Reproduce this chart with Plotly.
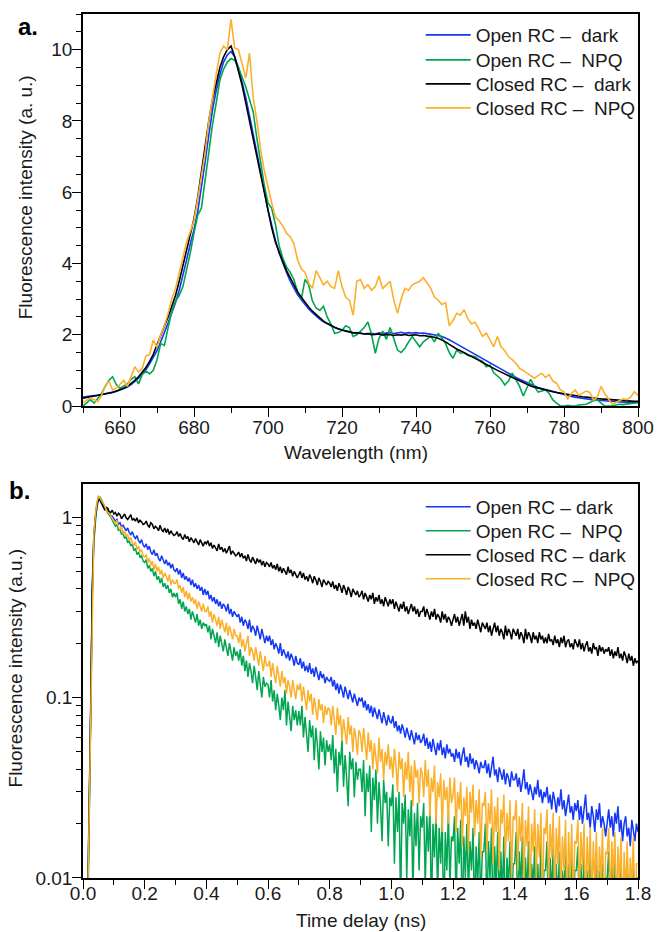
import plotly.graph_objects as go

# ---------------- Panel a: steady-state spectra ----------------
WAVELENGTH_NM = list(range(650, 801))

CLOSED_DARK_A = [
    0.22, 0.24, 0.26, 0.28, 0.29, 0.31, 0.33, 0.36, 0.38, 0.42,
    0.45, 0.50, 0.55, 0.63, 0.72, 0.82, 0.95, 1.08, 1.25, 1.45,
    1.72, 1.98, 2.22, 2.50, 2.80, 3.10, 3.50, 3.95, 4.40, 4.80,
    5.25, 5.85, 6.60, 7.30, 8.00, 8.60, 9.10, 9.50, 9.80, 10.0,
    10.1, 9.80, 9.40, 9.00, 8.50, 8.00, 7.50, 6.90, 6.40, 5.90,
    5.40, 5.00, 4.60, 4.30, 4.05, 3.80, 3.60, 3.40, 3.20, 3.05,
    2.90, 2.78, 2.66, 2.56, 2.46, 2.38, 2.32, 2.26, 2.21, 2.17,
    2.13, 2.10, 2.08, 2.05, 2.06, 2.04, 2.02, 2.03, 2.00, 2.01,
    2.02, 1.99, 2.01, 2.00, 1.98, 2.00, 1.99, 2.01, 1.98, 1.99,
    2.00, 1.97, 1.98, 1.96, 1.95, 1.93, 1.90, 1.86, 1.80, 1.73,
    1.66, 1.60, 1.55, 1.50, 1.45, 1.39, 1.33, 1.28, 1.22, 1.16,
    1.10, 1.05, 1.00, 0.95, 0.90, 0.84, 0.79, 0.74, 0.69, 0.64,
    0.60, 0.56, 0.53, 0.50, 0.47, 0.44, 0.42, 0.40, 0.38, 0.36,
    0.35, 0.33, 0.31, 0.29, 0.28, 0.26, 0.25, 0.23, 0.22, 0.21,
    0.20, 0.19, 0.18, 0.17, 0.16, 0.16, 0.15, 0.14, 0.14, 0.13,
    0.13,
]

OPEN_DARK_A = [
    0.25, 0.27, 0.27, 0.29, 0.30, 0.32, 0.33, 0.35, 0.38, 0.41,
    0.45, 0.48, 0.53, 0.60, 0.68, 0.78, 0.90, 1.02, 1.18, 1.36,
    1.55, 1.80, 2.05, 2.33, 2.62, 2.90, 3.25, 3.65, 4.10, 4.55,
    4.95, 5.45, 6.10, 6.85, 7.60, 8.30, 8.85, 9.30, 9.65, 9.85,
    9.95, 9.80, 9.50, 9.10, 8.65, 8.15, 7.65, 7.10, 6.55, 6.05,
    5.50, 5.05, 4.65, 4.30, 4.00, 3.75, 3.50, 3.30, 3.12, 2.98,
    2.84, 2.72, 2.62, 2.52, 2.44, 2.36, 2.30, 2.24, 2.20, 2.16,
    2.13, 2.10, 2.07, 2.06, 2.04, 2.05, 2.02, 2.03, 2.04, 2.02,
    2.05, 2.03, 2.04, 2.06, 2.03, 2.05, 2.07, 2.04, 2.06, 2.05,
    2.06, 2.04, 2.05, 2.03, 2.02, 2.00, 1.98, 1.95, 1.91, 1.86,
    1.80, 1.74, 1.68, 1.62, 1.56, 1.50, 1.44, 1.38, 1.33, 1.27,
    1.21, 1.16, 1.10, 1.04, 0.98, 0.92, 0.86, 0.80, 0.75, 0.70,
    0.65, 0.60, 0.56, 0.52, 0.49, 0.46, 0.43, 0.40, 0.37, 0.34,
    0.31, 0.29, 0.27, 0.25, 0.23, 0.21, 0.20, 0.18, 0.17, 0.16,
    0.15, 0.14, 0.13, 0.12, 0.12, 0.11, 0.10, 0.10, 0.09, 0.09,
    0.10,
]

OPEN_NPQ_A = [
    0.00, 0.10, 0.18, 0.08, 0.20, 0.35, 0.55, 0.72, 0.82, 0.60,
    0.50, 0.55, 0.62, 0.75, 0.82, 0.62, 0.88, 0.98, 0.90, 1.00,
    1.30, 1.75, 1.70, 2.20, 2.65, 2.95, 3.10, 3.35, 3.80, 4.30,
    4.85, 5.35, 5.55, 6.30, 7.20, 7.90, 8.50, 9.15, 9.45, 9.65,
    9.75, 9.70, 9.50, 9.25, 8.95, 8.60, 8.25, 7.50, 6.80, 6.20,
    5.70, 5.55, 5.10, 4.50, 4.15, 3.90, 3.75, 3.55, 3.20, 3.00,
    3.55, 3.40, 2.95, 2.75, 2.68, 2.80, 2.50, 2.30, 2.04, 2.06,
    2.12, 2.25, 2.20, 1.95, 2.00, 2.10, 2.20, 2.36, 2.00, 1.48,
    1.90, 2.10, 1.87, 2.20, 1.90, 1.57, 1.50, 1.62, 1.80, 1.95,
    1.80, 1.66, 1.80, 1.87, 1.96, 1.80, 2.04, 1.90, 1.75, 1.50,
    1.34, 1.57, 1.48, 1.50, 1.42, 1.40, 1.38, 1.30, 1.25, 1.10,
    1.15, 0.93, 0.84, 0.75, 0.59, 0.70, 0.92, 0.75, 0.55, 0.28,
    0.50, 0.75, 0.55, 0.39, 0.42, 0.45, 0.35, 0.17, 0.08, 0.00,
    0.00, 0.02, 0.00, 0.00, 0.03, 0.05, 0.05, 0.10, 0.15, 0.17,
    0.08, 0.00, 0.00, 0.00, 0.03, 0.05, 0.04, 0.06, 0.08, 0.10,
    0.10,
]

CLOSED_NPQ_A = [
    0.10, 0.15, 0.22, 0.18, 0.12, 0.30, 0.55, 0.70, 0.45, 0.50,
    0.60, 0.72, 0.55, 0.85, 1.10, 0.95, 1.05, 1.40, 1.45, 1.85,
    1.65, 2.00, 2.25, 2.60, 3.00, 3.30, 3.75, 4.15, 4.60, 4.90,
    5.20, 5.80, 6.40, 7.10, 8.00, 8.70, 9.30, 9.90, 10.10, 10.0,
    10.85, 10.05, 10.0, 9.60, 9.20, 9.90, 8.65, 8.00, 7.20, 6.60,
    6.10, 5.70, 5.30, 5.20, 5.05, 4.85, 4.75, 4.55, 4.10, 3.85,
    3.75, 3.45, 3.30, 3.80, 3.60, 3.40, 3.50, 3.35, 3.30, 3.80,
    3.35, 3.05, 2.97, 2.55, 3.50, 3.55, 3.30, 3.40, 3.25, 3.35,
    3.65, 3.30, 3.40, 3.50, 2.97, 2.60, 3.00, 3.30, 3.25, 3.40,
    3.45, 3.50, 3.60, 3.45, 3.30, 3.05, 2.97, 2.85, 2.90, 2.25,
    2.40, 2.60, 2.55, 2.70, 2.45, 2.30, 2.35, 2.15, 1.95, 2.05,
    1.85, 1.66, 1.95, 1.66, 1.55, 1.38, 1.30, 1.20, 1.05, 1.00,
    0.92, 0.85, 0.78, 0.85, 0.92, 0.80, 0.88, 0.70, 0.64, 0.45,
    0.40, 0.20, 0.35, 0.45, 0.30, 0.36, 0.42, 0.38, 0.17, 0.25,
    0.55, 0.35, 0.20, 0.05, 0.10, 0.15, 0.20, 0.18, 0.25, 0.40,
    0.30,
]

# ---------------- Panel b: fluorescence decays (0.005 ns sampling) ----------------
TIME_NS = [i / 200 for i in range(361)]

OPEN_DARK_B = [
    0.001, 0.001, 0.002, 0.006, 0.02, 0.08, 0.38, 0.74, 0.98, 1.16, 1.27, 1.26, 1.21, 1.16, 1.13, 1.09, 1.10, 1.05, 1.02, 1.01,
    0.98, 0.95, 0.97, 0.91, 0.93, 0.88, 0.90, 0.86, 0.84, 0.87, 0.82, 0.80, 0.83, 0.78, 0.76, 0.79, 0.74, 0.72, 0.75, 0.70,
    0.68, 0.71, 0.66, 0.69, 0.64, 0.62, 0.66, 0.61, 0.63, 0.59, 0.57, 0.61, 0.58, 0.55, 0.58, 0.54, 0.56, 0.52, 0.55, 0.51,
    0.50, 0.52, 0.48, 0.51, 0.46, 0.49, 0.45, 0.47, 0.44, 0.46, 0.42, 0.45, 0.41, 0.43, 0.40, 0.42, 0.39, 0.41, 0.37, 0.40,
    0.37, 0.39, 0.35, 0.37, 0.34, 0.36, 0.33, 0.35, 0.32, 0.34, 0.31, 0.33, 0.32, 0.30, 0.33, 0.29, 0.31, 0.28, 0.30, 0.29,
    0.28, 0.29, 0.26, 0.28, 0.25, 0.27, 0.26, 0.24, 0.27, 0.23, 0.25, 0.24, 0.22, 0.25, 0.23, 0.21, 0.24, 0.22, 0.20, 0.22,
    0.205, 0.22, 0.195, 0.21, 0.185, 0.20, 0.19, 0.175, 0.20, 0.17, 0.185, 0.175, 0.165, 0.18, 0.16, 0.175, 0.165, 0.15, 0.17, 0.155,
    0.152, 0.165, 0.145, 0.158, 0.14, 0.15, 0.138, 0.155, 0.135, 0.145, 0.13, 0.148, 0.136, 0.125, 0.14, 0.128, 0.135, 0.12, 0.13, 0.125,
    0.123, 0.13, 0.115, 0.125, 0.11, 0.12, 0.105, 0.118, 0.11, 0.10, 0.115, 0.105, 0.098, 0.11, 0.10, 0.094, 0.105, 0.098, 0.09, 0.10,
    0.095, 0.10, 0.088, 0.096, 0.085, 0.092, 0.082, 0.09, 0.078, 0.088, 0.08, 0.076, 0.086, 0.078, 0.072, 0.083, 0.075, 0.07, 0.08, 0.074,
    0.072, 0.079, 0.068, 0.074, 0.065, 0.07, 0.063, 0.071, 0.066, 0.06, 0.068, 0.062, 0.058, 0.066, 0.06, 0.055, 0.064, 0.058, 0.062, 0.056,
    0.058, 0.063, 0.054, 0.06, 0.052, 0.057, 0.05, 0.059, 0.053, 0.048, 0.056, 0.051, 0.058, 0.048, 0.053, 0.046, 0.055, 0.049, 0.052, 0.047,
    0.049, 0.044, 0.052, 0.046, 0.05, 0.042, 0.048, 0.053, 0.044, 0.047, 0.041, 0.049, 0.043, 0.046, 0.04, 0.045, 0.042, 0.038, 0.044, 0.041,
    0.041, 0.045, 0.038, 0.043, 0.036, 0.042, 0.047, 0.037, 0.04, 0.034, 0.041, 0.038, 0.035, 0.04, 0.033, 0.038, 0.036, 0.032, 0.039, 0.035,
    0.035, 0.038, 0.032, 0.036, 0.03, 0.034, 0.04, 0.031, 0.034, 0.029, 0.033, 0.03, 0.027, 0.032, 0.029, 0.035, 0.028, 0.031, 0.026, 0.03,
    0.028, 0.032, 0.026, 0.029, 0.024, 0.03, 0.027, 0.023, 0.028, 0.025, 0.031, 0.024, 0.027, 0.022, 0.026, 0.029, 0.023, 0.025, 0.021, 0.026,
    0.0235, 0.027, 0.021, 0.025, 0.02, 0.024, 0.029, 0.021, 0.023, 0.019, 0.025, 0.022, 0.018, 0.024, 0.021, 0.026, 0.019, 0.022, 0.02, 0.017,
    0.021, 0.024, 0.019, 0.022, 0.017, 0.023, 0.02, 0.025, 0.018, 0.021, 0.016, 0.02, 0.022, 0.017, 0.019, 0.015, 0.021, 0.018, 0.016, 0.02,
    0.018,
]

OPEN_NPQ_B = [
    0.001, 0.001, 0.002, 0.005, 0.02, 0.08, 0.36, 0.72, 0.96, 1.17, 1.30, 1.29, 1.25, 1.20, 1.17, 1.10, 1.05, 1.03, 1.00, 0.96,
    0.93, 0.89, 0.91, 0.84, 0.86, 0.80, 0.82, 0.76, 0.78, 0.72, 0.74, 0.69, 0.71, 0.65, 0.67, 0.62, 0.64, 0.60, 0.61, 0.57,
    0.56, 0.58, 0.52, 0.54, 0.50, 0.52, 0.47, 0.50, 0.45, 0.47, 0.43, 0.46, 0.41, 0.43, 0.40, 0.42, 0.38, 0.40, 0.36, 0.38,
    0.36, 0.38, 0.33, 0.35, 0.31, 0.34, 0.30, 0.32, 0.29, 0.31, 0.27, 0.30, 0.28, 0.26, 0.29, 0.25, 0.27, 0.24, 0.26, 0.25,
    0.255, 0.23, 0.25, 0.21, 0.24, 0.22, 0.20, 0.23, 0.19, 0.22, 0.20, 0.18, 0.21, 0.19, 0.17, 0.20, 0.18, 0.16, 0.19, 0.17,
    0.18, 0.16, 0.185, 0.15, 0.17, 0.14, 0.16, 0.13, 0.155, 0.14, 0.12, 0.15, 0.13, 0.11, 0.14, 0.12, 0.10, 0.13, 0.115, 0.12,
    0.118, 0.10, 0.125, 0.095, 0.11, 0.085, 0.105, 0.09, 0.075, 0.10, 0.085, 0.11, 0.07, 0.095, 0.08, 0.065, 0.09, 0.075, 0.085, 0.07,
    0.084, 0.07, 0.09, 0.06, 0.078, 0.065, 0.05, 0.075, 0.06, 0.07, 0.045, 0.068, 0.055, 0.04, 0.065, 0.05, 0.06, 0.042, 0.058, 0.05,
    0.055, 0.045, 0.062, 0.038, 0.052, 0.03, 0.05, 0.042, 0.058, 0.032, 0.048, 0.036, 0.025, 0.05, 0.04, 0.046, 0.028, 0.044, 0.035, 0.04,
    0.04, 0.03, 0.045, 0.022, 0.038, 0.03, 0.042, 0.018, 0.036, 0.027, 0.04, 0.02, 0.034, 0.025, 0.016, 0.035, 0.026, 0.03, 0.015, 0.028,
    0.025, 0.033, 0.012, 0.028, 0.018, 0.03, 0.007, 0.026, 0.02, 0.029, 0.01, 0.024, 0.017, 0.027, 0.008, 0.023, 0.015, 0.026, 0.011, 0.022,
    0.019, 0.026, 0.009, 0.022, 0.014, 0.025, 0.006, 0.02, 0.013, 0.024, 0.008, 0.019, 0.012, 0.022, 0.005, 0.018, 0.011, 0.023, 0.009, 0.017,
    0.016, 0.022, 0.007, 0.019, 0.012, 0.021, 0.005, 0.017, 0.01, 0.02, 0.008, 0.016, 0.011, 0.019, 0.006, 0.015, 0.009, 0.018, 0.007, 0.014,
    0.014, 0.02, 0.006, 0.016, 0.01, 0.019, 0.005, 0.015, 0.009, 0.018, 0.007, 0.014, 0.008, 0.017, 0.005, 0.013, 0.009, 0.016, 0.006, 0.012,
    0.012, 0.018, 0.006, 0.014, 0.009, 0.017, 0.005, 0.013, 0.008, 0.016, 0.006, 0.012, 0.009, 0.015, 0.005, 0.012, 0.007, 0.016, 0.006, 0.011,
    0.011, 0.016, 0.005, 0.013, 0.008, 0.015, 0.006, 0.012, 0.007, 0.014, 0.005, 0.011, 0.008, 0.015, 0.006, 0.012, 0.007, 0.013, 0.005, 0.011,
    0.011, 0.015, 0.006, 0.012, 0.007, 0.014, 0.005, 0.011, 0.008, 0.013, 0.006, 0.01, 0.007, 0.014, 0.005, 0.011, 0.008, 0.012, 0.006, 0.01,
    0.01, 0.014, 0.005, 0.012, 0.007, 0.013, 0.006, 0.01, 0.008, 0.012, 0.005, 0.011, 0.007, 0.013, 0.006, 0.01, 0.007, 0.012, 0.005, 0.01,
    0.01,
]

CLOSED_DARK_B = [
    0.001, 0.001, 0.002, 0.006, 0.02, 0.09, 0.40, 0.78, 1.00, 1.17, 1.25, 1.24, 1.19, 1.15, 1.10, 1.13, 1.12, 1.07, 1.06, 1.09,
    1.04, 1.06, 1.01, 1.05, 1.03, 0.98, 1.02, 1.04, 0.99, 0.97, 1.00, 1.03, 0.96, 0.98, 0.95, 0.99, 0.93, 0.96, 0.94, 0.91,
    0.92, 0.95, 0.90, 0.88, 0.93, 0.91, 0.86, 0.89, 0.87, 0.84, 0.90, 0.85, 0.83, 0.87, 0.82, 0.86, 0.80, 0.84, 0.81, 0.79,
    0.80, 0.83, 0.78, 0.81, 0.77, 0.75, 0.80, 0.76, 0.78, 0.73, 0.77, 0.74, 0.72, 0.76, 0.73, 0.70, 0.75, 0.72, 0.69, 0.73,
    0.71, 0.74, 0.69, 0.72, 0.67, 0.70, 0.68, 0.65, 0.71, 0.66, 0.68, 0.64, 0.67, 0.63, 0.66, 0.69, 0.62, 0.65, 0.63, 0.61,
    0.62, 0.64, 0.60, 0.63, 0.59, 0.61, 0.57, 0.62, 0.58, 0.56, 0.60, 0.57, 0.55, 0.59, 0.56, 0.58, 0.54, 0.57, 0.53, 0.56,
    0.55, 0.53, 0.56, 0.52, 0.54, 0.51, 0.55, 0.50, 0.53, 0.49, 0.52, 0.50, 0.48, 0.53, 0.49, 0.51, 0.47, 0.50, 0.48, 0.46,
    0.48, 0.50, 0.46, 0.49, 0.45, 0.47, 0.44, 0.48, 0.46, 0.43, 0.47, 0.45, 0.42, 0.46, 0.44, 0.41, 0.45, 0.43, 0.42, 0.44,
    0.43, 0.41, 0.44, 0.40, 0.42, 0.39, 0.43, 0.41, 0.38, 0.42, 0.40, 0.37, 0.41, 0.39, 0.36, 0.40, 0.38, 0.37, 0.39, 0.36,
    0.37, 0.39, 0.35, 0.38, 0.36, 0.34, 0.37, 0.35, 0.38, 0.33, 0.36, 0.34, 0.37, 0.33, 0.35, 0.32, 0.36, 0.34, 0.32, 0.35,
    0.33, 0.35, 0.31, 0.34, 0.32, 0.30, 0.33, 0.31, 0.34, 0.30, 0.32, 0.29, 0.31, 0.33, 0.30, 0.32, 0.29, 0.31, 0.28, 0.30,
    0.30, 0.32, 0.28, 0.31, 0.29, 0.27, 0.30, 0.28, 0.31, 0.27, 0.29, 0.28, 0.26, 0.30, 0.27, 0.29, 0.26, 0.28, 0.27, 0.25,
    0.27, 0.29, 0.26, 0.28, 0.25, 0.27, 0.29, 0.25, 0.30, 0.26, 0.28, 0.24, 0.27, 0.25, 0.26, 0.24, 0.27, 0.25, 0.23, 0.26,
    0.25, 0.24, 0.26, 0.23, 0.25, 0.22, 0.24, 0.26, 0.23, 0.25, 0.22, 0.24, 0.23, 0.21, 0.25, 0.22, 0.24, 0.23, 0.21, 0.24,
    0.23, 0.22, 0.24, 0.21, 0.23, 0.22, 0.20, 0.24, 0.21, 0.23, 0.22, 0.20, 0.23, 0.21, 0.22, 0.20, 0.23, 0.21, 0.22, 0.20,
    0.215, 0.20, 0.225, 0.205, 0.21, 0.195, 0.22, 0.20, 0.21, 0.19, 0.215, 0.20, 0.22, 0.19, 0.205, 0.21, 0.19, 0.20, 0.185, 0.21,
    0.20, 0.19, 0.21, 0.185, 0.20, 0.18, 0.195, 0.205, 0.18, 0.19, 0.175, 0.20, 0.185, 0.19, 0.17, 0.195, 0.18, 0.19, 0.175, 0.185,
    0.18, 0.19, 0.17, 0.185, 0.165, 0.18, 0.17, 0.19, 0.165, 0.175, 0.16, 0.18, 0.17, 0.155, 0.175, 0.16, 0.17, 0.15, 0.165, 0.155,
    0.16,
]

CLOSED_NPQ_B = [
    0.001, 0.001, 0.002, 0.007, 0.025, 0.10, 0.42, 0.80, 1.02, 1.20, 1.30, 1.28, 1.23, 1.19, 1.16, 1.10, 1.06, 1.05, 1.02, 0.98,
    0.95, 0.92, 0.96, 0.88, 0.85, 0.89, 0.81, 0.84, 0.78, 0.80, 0.74, 0.77, 0.72, 0.70, 0.73, 0.66, 0.69, 0.64, 0.66, 0.61,
    0.60, 0.62, 0.56, 0.59, 0.54, 0.57, 0.51, 0.55, 0.50, 0.53, 0.48, 0.51, 0.46, 0.49, 0.47, 0.44, 0.48, 0.42, 0.45, 0.43,
    0.43, 0.45, 0.40, 0.42, 0.38, 0.41, 0.36, 0.39, 0.35, 0.38, 0.34, 0.36, 0.33, 0.35, 0.31, 0.34, 0.32, 0.30, 0.33, 0.30,
    0.30, 0.32, 0.28, 0.30, 0.26, 0.29, 0.27, 0.25, 0.28, 0.24, 0.27, 0.25, 0.23, 0.26, 0.22, 0.25, 0.23, 0.21, 0.24, 0.22,
    0.22, 0.20, 0.23, 0.19, 0.21, 0.18, 0.20, 0.22, 0.17, 0.19, 0.18, 0.16, 0.19, 0.17, 0.15, 0.18, 0.16, 0.14, 0.17, 0.15,
    0.15, 0.16, 0.13, 0.155, 0.135, 0.12, 0.15, 0.13, 0.115, 0.14, 0.12, 0.13, 0.105, 0.125, 0.115, 0.10, 0.125, 0.11, 0.098, 0.118,
    0.11, 0.12, 0.095, 0.115, 0.10, 0.085, 0.11, 0.095, 0.105, 0.08, 0.10, 0.088, 0.075, 0.098, 0.085, 0.092, 0.072, 0.09, 0.08, 0.088,
    0.085, 0.07, 0.09, 0.075, 0.062, 0.088, 0.07, 0.08, 0.058, 0.076, 0.065, 0.055, 0.078, 0.062, 0.07, 0.05, 0.068, 0.06, 0.048, 0.066,
    0.062, 0.05, 0.068, 0.055, 0.045, 0.064, 0.05, 0.058, 0.04, 0.056, 0.046, 0.038, 0.06, 0.044, 0.052, 0.035, 0.05, 0.042, 0.055, 0.04,
    0.047, 0.036, 0.052, 0.042, 0.03, 0.05, 0.04, 0.046, 0.028, 0.044, 0.035, 0.05, 0.03, 0.042, 0.025, 0.045, 0.036, 0.04, 0.026, 0.041,
    0.038, 0.028, 0.045, 0.032, 0.04, 0.022, 0.036, 0.03, 0.042, 0.02, 0.034, 0.028, 0.038, 0.018, 0.035, 0.027, 0.032, 0.02, 0.036, 0.026,
    0.029, 0.036, 0.018, 0.03, 0.024, 0.034, 0.015, 0.028, 0.022, 0.032, 0.014, 0.03, 0.023, 0.033, 0.017, 0.027, 0.02, 0.031, 0.013, 0.026,
    0.025, 0.03, 0.014, 0.026, 0.02, 0.031, 0.012, 0.025, 0.018, 0.028, 0.011, 0.024, 0.02, 0.029, 0.013, 0.023, 0.016, 0.027, 0.01, 0.022,
    0.021, 0.027, 0.011, 0.022, 0.016, 0.026, 0.009, 0.021, 0.015, 0.025, 0.008, 0.02, 0.014, 0.024, 0.01, 0.02, 0.013, 0.023, 0.007, 0.019,
    0.0175, 0.024, 0.009, 0.02, 0.013, 0.023, 0.007, 0.019, 0.012, 0.022, 0.008, 0.017, 0.011, 0.021, 0.006, 0.018, 0.01, 0.02, 0.007, 0.016,
    0.0155, 0.021, 0.008, 0.018, 0.011, 0.02, 0.006, 0.017, 0.01, 0.019, 0.007, 0.016, 0.009, 0.018, 0.006, 0.015, 0.01, 0.019, 0.005, 0.014,
    0.0135, 0.019, 0.007, 0.016, 0.01, 0.018, 0.006, 0.015, 0.009, 0.017, 0.005, 0.014, 0.008, 0.016, 0.006, 0.013, 0.009, 0.017, 0.005, 0.012,
    0.012,
]

LABELS_A = ["Open RC –\u00a0 dark", "Open RC –\u00a0 NPQ",
            "Closed RC –\u00a0 dark", "Closed RC –\u00a0 NPQ"]
LABELS_B = ["Open RC – dark", "Open RC –\u00a0 NPQ",
            "Closed RC – dark", "Closed RC –\u00a0 NPQ"]
COLORS = ["#1438f5", "#00a651", "#000000", "#fbb02c"]

FONT = "Liberation Sans, Arial, sans-serif"
FS = 19
TXT = "#1a1a1a"

# pixel geometry helpers (figure 666 x 932)
W, H = 666, 932
L, R, T, B = 83, 16, 14, 54
pw, ph = W - L - R, H - T - B


def px_to_paper(xp, yp):
    return (xp - L) / pw, (H - B - yp) / ph


LEGEND_ROWS_A = [35, 60, 84, 108]
LEGEND_ROWS_B = [507, 531, 555, 579]
LEGEND_LEFT = 428

fig = go.Figure()

layout_legends = {}
series_a = [OPEN_DARK_A, OPEN_NPQ_A, CLOSED_DARK_A, CLOSED_NPQ_A]
for i, (name, ys, c) in enumerate(zip(LABELS_A, series_a, COLORS)):
    key = "legend" if i == 0 else f"legend{i + 1}"
    fig.add_trace(go.Scatter(x=WAVELENGTH_NM, y=ys, mode="lines", name=name,
                             line=dict(color=c, width=1.6), showlegend=True,
                             xaxis="x", yaxis="y", legend=key))
    lx, ly = px_to_paper(LEGEND_LEFT, LEGEND_ROWS_A[i])
    layout_legends[key] = dict(x=lx, y=ly, xanchor="left", yanchor="middle",
                               bgcolor="rgba(0,0,0,0)", borderwidth=0, itemwidth=45,
                               font=dict(family=FONT, size=FS, color=TXT))

series_b = [OPEN_DARK_B, OPEN_NPQ_B, CLOSED_DARK_B, CLOSED_NPQ_B]
for i, (name, ys, c) in enumerate(zip(LABELS_B, series_b, COLORS)):
    key = f"legend{i + 5}"
    fig.add_trace(go.Scatter(x=TIME_NS, y=ys, mode="lines", name=name,
                             line=dict(color=c, width=1.5), showlegend=True,
                             xaxis="x2", yaxis="y2", legend=key))
    lx, ly = px_to_paper(LEGEND_LEFT, LEGEND_ROWS_B[i])
    layout_legends[key] = dict(x=lx, y=ly, xanchor="left", yanchor="middle",
                               bgcolor="rgba(0,0,0,0)", borderwidth=0, itemwidth=45,
                               font=dict(family=FONT, size=FS, color=TXT))

axis_common = dict(showline=True, linecolor="black", linewidth=1.5, mirror=True,
                   ticks="outside", ticklen=9, tickwidth=1.3, tickcolor="black",
                   showgrid=False, zeroline=False,
                   tickfont=dict(family=FONT, size=FS, color=TXT))

fig.update_layout(
    width=W, height=H,
    margin=dict(l=L, r=R, t=T, b=B),
    paper_bgcolor="white", plot_bgcolor="white",
    showlegend=True,
    font=dict(family=FONT, size=FS, color=TXT),
    xaxis=dict(domain=[0, 1], anchor="y", range=[650, 800], dtick=20,
               ticklabelstandoff=-6,
               minor=dict(ticks="outside", dtick=10, ticklen=5, tickcolor="black"),
               **axis_common),
    yaxis=dict(domain=[0.5463, 1], anchor="x", range=[0, 11], dtick=2,
               ticklabelstandoff=-4,
               minor=dict(ticks="outside", dtick=0.5, ticklen=5, tickcolor="black"),
               **axis_common),
    xaxis2=dict(domain=[0, 1], anchor="y2", range=[0, 1.8], dtick=0.2,
                tickformat=".1f", ticklabelstandoff=-12,
                minor=dict(ticks="outside", dtick=0.1, ticklen=5, tickcolor="black"),
                **axis_common),
    yaxis2=dict(domain=[0, 0.456], anchor="x2", type="log", range=[-2, 0.183],
                tickvals=[0.01, 0.1, 1], ticktext=["0.01", "0.1", "1"],
                ticklabelstandoff=-4,
                minor=dict(ticks="outside", ticklen=5, tickcolor="black",
                           tickvals=[0.02, 0.03, 0.04, 0.05, 0.06, 0.07, 0.08, 0.09,
                                     0.2, 0.3, 0.4, 0.5, 0.6, 0.7, 0.8, 0.9]),
                **axis_common),
    **layout_legends,
)


def text_at(text, xp, yp, size=FS, angle=0, color=TXT):
    x, y = px_to_paper(xp, yp)
    return dict(text=text, x=x, y=y, xref="paper", yref="paper",
                xanchor="center", yanchor="middle", showarrow=False,
                textangle=angle, font=dict(family=FONT, size=size, color=color))


fig.layout.annotations = [
    text_at("<b>a.</b>", 27, 27, size=24, color="black"),
    text_at("<b>b.</b>", 18, 491, size=24, color="black"),
    text_at("Wavelength (nm)", 362, 452),
    text_at("Time delay (ns)", 367, 920),
    text_at("Fluorescence intensity (a. u.)", 24, 197, angle=-90),
    text_at("Fluorescence intensity (a.u.)", 14, 668, angle=-90),
]

fig.write_html("out.html",
               config={"displayModeBar": False},
               post_script="document.body.style.margin='0';"
                           "document.body.style.padding='0';")
